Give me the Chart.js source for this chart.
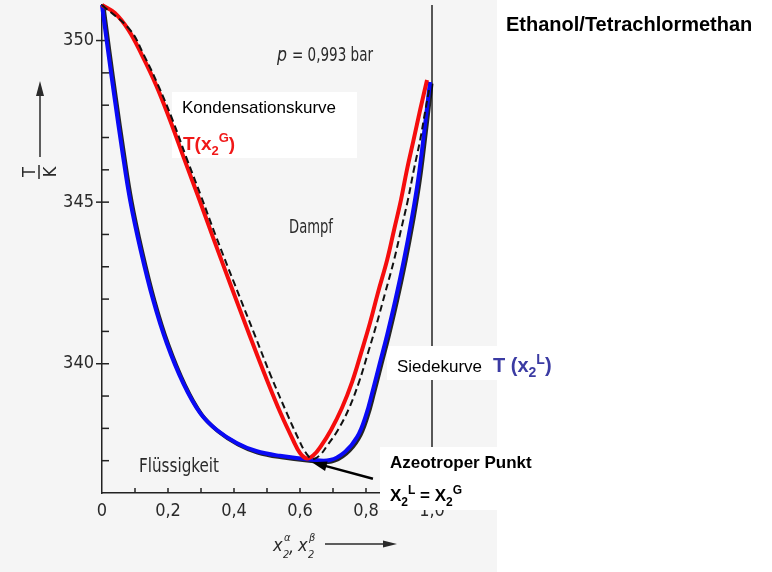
<!DOCTYPE html>
<html>
<head>
<meta charset="utf-8">
<script src="https://cdn.jsdelivr.net/npm/chart.js@4.4.1/dist/chart.umd.min.js"></script>
<style>
  html, body { margin: 0; padding: 0; background: #fff; }
  #wrap { position: relative; width: 772px; height: 572px; }
</style>
</head>
<body>
<div id="wrap"><canvas id="c"></canvas></div>
<script>
// Kondensationskurve T(x2G), rot
const dewX = [0, 0.039, 0.080, 0.121, 0.164, 0.206, 0.248, 0.291, 0.335, 0.389, 0.448, 0.495, 0.542, 0.579, 0.600, 0.621, 0.642, 0.664, 0.694, 0.727, 0.758, 0.785, 0.812, 0.836, 0.864, 0.885, 0.906, 0.924, 0.944, 0.964, 0.985];
const dewT = [351.1, 350.85, 350.33, 349.55, 348.62, 347.54, 346.37, 345.19, 343.95, 342.46, 340.86, 339.62, 338.45, 337.64, 337.24, 337.07, 337.18, 337.46, 337.95, 338.63, 339.44, 340.33, 341.26, 342.19, 343.21, 344.14, 345.07, 346.00, 346.92, 347.85, 348.78];

// Siedekurve T(x2L), blau
const bubbleX = [0, 0.018, 0.039, 0.061, 0.085, 0.117, 0.155, 0.196, 0.246, 0.297, 0.348, 0.408, 0.467, 0.539, 0.630, 0.691, 0.736, 0.773, 0.800, 0.821, 0.842, 0.864, 0.889, 0.915, 0.938, 0.958, 0.977, 0.994];
const bubbleT = [351.1, 349.71, 348.16, 346.61, 345.07, 343.52, 341.97, 340.64, 339.40, 338.48, 337.95, 337.55, 337.30, 337.15, 337.04, 337.02, 337.27, 337.73, 338.41, 339.19, 340.02, 340.89, 341.97, 343.21, 344.45, 345.69, 347.23, 348.72];

// gestrichelte Originalkurve aus der Vorlage
const scanX = [0, 0.085, 0.127, 0.170, 0.214, 0.256, 0.300, 0.345, 0.402, 0.464, 0.512, 0.561, 0.597, 0.618, 0.639, 0.661, 0.682, 0.715, 0.749, 0.779, 0.806, 0.833, 0.858, 0.885, 0.906, 0.927, 0.945, 0.964, 0.980, 0.991];
const scanT = [351.1, 350.33, 349.55, 348.62, 347.54, 346.37, 345.19, 343.95, 342.46, 340.86, 339.62, 338.45, 337.64, 337.24, 337.05, 337.18, 337.46, 337.95, 338.63, 339.44, 340.33, 341.26, 342.19, 343.21, 344.14, 345.07, 346.00, 346.92, 347.85, 348.47];

const xTickLabels = ['0', '0,2', '0,4', '0,6', '0,8', '1,0'];
const yTickLabels = [340, 345, 350];

// azeotroper Punkt (Pfeilspitze) und Pfeilanfang
const azeo = { x: 0.636, y: 336.95 };
const azeoFrom = { x: 0.821, y: 336.44 };

const pts = (xs, ys) => xs.map((x, i) => ({ x, y: ys[i] }));

const SANS = '"Liberation Sans", Arial, sans-serif';
const SCAN = '"DejaVu Sans Condensed", "DejaVu Sans", sans-serif';

function line(c, x1, y1, x2, y2) {
  c.beginPath(); c.moveTo(x1, y1); c.lineTo(x2, y2); c.stroke();
}

function arrow(c, x1, y1, x2, y2, len, half) {
  const ang = Math.atan2(y2 - y1, x2 - x1);
  line(c, x1, y1, x2 - Math.cos(ang) * len * 0.6, y2 - Math.sin(ang) * len * 0.6);
  c.beginPath();
  c.moveTo(x2, y2);
  c.lineTo(x2 - Math.cos(ang) * len + Math.sin(ang) * half, y2 - Math.sin(ang) * len - Math.cos(ang) * half);
  c.lineTo(x2 - Math.cos(ang) * len - Math.sin(ang) * half, y2 - Math.sin(ang) * len + Math.cos(ang) * half);
  c.closePath();
  c.fill();
}

function rich(c, x, y, parts) {
  for (const p of parts) {
    c.font = p.f;
    c.fillText(p.t, x, y + (p.dy || 0));
    x += c.measureText(p.t).width;
  }
  return x;
}

function fitText(c, text, x, y, font, w) {
  c.font = font;
  const m = c.measureText(text).width;
  c.save();
  c.translate(x, y);
  c.scale(w / m, 1);
  c.fillText(text, 0, 0);
  c.restore();
}

const sheet = {
  id: 'sheet',
  beforeDraw(chart) {
    const c = chart.ctx;
    c.save();
    c.fillStyle = '#fff';
    c.fillRect(0, 0, chart.width, chart.height);
    c.fillStyle = '#f5f5f5';
    c.fillRect(0, 0, 497, chart.height);
    c.restore();
  },
  beforeDatasetsDraw(chart) {
    const c = chart.ctx, xs = chart.scales.x, ys = chart.scales.y, a = chart.chartArea;
    c.save();
    c.strokeStyle = '#222';
    c.lineWidth = 1.5;
    const xr = xs.getPixelForValue(1);
    line(c, xr, a.top, xr, a.bottom);
    for (let i = 1; i <= 10; i++) {
      const px = xs.getPixelForValue(i / 10);
      line(c, px, a.bottom, px, a.bottom - 5);
    }
    for (let t = 337; t <= 351; t++) {
      const py = ys.getPixelForValue(t);
      line(c, a.left, py, a.left + 7, py);
      if (yTickLabels.includes(t)) line(c, a.left - 6, py, a.left, py);
    }
    // weiße Beschriftungsfelder
    c.fillStyle = '#fff';
    c.fillRect(172, 92, 185, 66);
    c.fillRect(387, 346, 110, 34);
    c.fillRect(380, 447, 117, 63);
    c.restore();
  },
  beforeDatasetDraw(chart, args) {
    // dunkle Originalkurve scheint unter der blauen Linie durch
    if (args.index === 2) {
      const c = chart.ctx;
      c.save();
      c.shadowColor = 'rgba(0,0,0,0.85)';
      c.shadowOffsetX = 1.5;
      c.shadowOffsetY = 1.5;
      c.shadowBlur = 0;
    }
  },
  afterDatasetDraw(chart, args) {
    if (args.index === 2) chart.ctx.restore();
  },
  afterDatasetsDraw(chart) {
    const c = chart.ctx, xs = chart.scales.x, ys = chart.scales.y;
    c.save();
    c.textBaseline = 'alphabetic';
    c.textAlign = 'left';

    // Texte aus der Vorlage (Scan)
    c.fillStyle = '#2a2a2a';
    fitText(c, 'p', 277, 61, 'italic 20px ' + SCAN, 10);
    fitText(c, '= 0,993 bar', 292, 61, '20px ' + SCAN, 81);
    fitText(c, 'Dampf', 289, 233, '20px ' + SCAN, 44);
    fitText(c, 'Flüssigkeit', 139, 472, '20px ' + SCAN, 80);

    // Achsentitel x
    const xi = 'italic 18px ' + SCAN, xsm = 'italic 11px ' + SCAN;
    c.font = xi;
    c.fillText('x', 273, 551);
    c.fillText(',', 289, 553);
    c.fillText('x', 298, 551);
    c.font = xsm;
    c.fillText('2', 283, 558);
    c.fillText('\u03b1', 284, 541);
    c.fillText('2', 308, 558);
    c.fillText('\u03b2', 309, 541);
    c.strokeStyle = '#2a2a2a';
    c.fillStyle = '#2a2a2a';
    c.lineWidth = 1.5;
    arrow(c, 325, 544, 397, 544, 14, 3.5);

    // Achsentitel y: T/K mit Pfeil
    arrow(c, 40, 157, 40, 81, 15, 4);
    c.save();
    c.translate(39, 172);
    c.rotate(-Math.PI / 2);
    c.font = '18px ' + SCAN;
    c.textAlign = 'center';
    c.fillText('T', 0, -4);
    c.fillText('K', 0, 17);
    line(c, -7, 0, 7, 0);
    c.restore();

    // Pfeil zum azeotropen Punkt
    c.strokeStyle = '#000';
    c.fillStyle = '#000';
    c.lineWidth = 2.5;
    arrow(c, xs.getPixelForValue(azeoFrom.x), ys.getPixelForValue(azeoFrom.y),
      xs.getPixelForValue(azeo.x), ys.getPixelForValue(azeo.y), 15, 5);

    // eingefügte Beschriftungen
    c.fillStyle = '#000';
    c.font = '17px ' + SANS;
    c.fillText('Kondensationskurve', 182, 113);
    c.fillText('Siedekurve', 397, 372);

    c.fillStyle = '#f01818';
    const rb = 'bold 19px ' + SANS, rs = 'bold 13px ' + SANS;
    rich(c, 183, 150, [
      { t: 'T(x', f: rb }, { t: '2', f: rs, dy: 5 }, { t: 'G', f: rs, dy: -8 }, { t: ')', f: rb }
    ]);

    c.fillStyle = '#3b3ba3';
    const bb = 'bold 20px ' + SANS, bs = 'bold 14px ' + SANS;
    rich(c, 493, 372, [
      { t: 'T (x', f: bb }, { t: '2', f: bs, dy: 5 }, { t: 'L', f: bs, dy: -8 }, { t: ')', f: bb }
    ]);

    c.fillStyle = '#000';
    c.font = 'bold 17px ' + SANS;
    c.fillText('Azeotroper Punkt', 390, 468);
    const ab = 'bold 17px ' + SANS, as = 'bold 12px ' + SANS;
    rich(c, 390, 501, [
      { t: 'X', f: ab }, { t: '2', f: as, dy: 5 }, { t: 'L', f: as, dy: -7 },
      { t: ' = X', f: ab }, { t: '2', f: as, dy: 5 }, { t: 'G', f: as, dy: -7 }
    ]);

    c.font = 'bold 20px ' + SANS;
    c.fillText('Ethanol/Tetrachlormethan', 506, 31);
    c.restore();
  }
};

const lineStyle = { showLine: true, pointRadius: 0, tension: 0.4, clip: false };

new Chart(document.getElementById('c'), {
  type: 'scatter',
  data: {
    datasets: [
      { ...lineStyle, label: 'Vorlage', data: pts(scanX, scanT), borderColor: '#111', borderWidth: 2, borderDash: [7, 4] },
      { ...lineStyle, label: 'T(x2G)', data: pts(dewX, dewT), borderColor: '#f50d0d', borderWidth: 4 },
      { ...lineStyle, label: 'T(x2L)', data: pts(bubbleX, bubbleT), borderColor: '#0a0af5', borderWidth: 4 }
    ]
  },
  options: {
    responsive: true,
    maintainAspectRatio: false,
    animation: false,
    layout: { padding: { left: 0, right: 340, top: 5, bottom: 0 } },
    plugins: { legend: { display: false }, tooltip: { enabled: false } },
    scales: {
      x: {
        type: 'linear',
        min: 0,
        max: 1,
        afterFit(scale) { scale.height = 79; scale.paddingLeft = 0; scale.paddingRight = 0; },
        grid: { display: true, drawOnChartArea: false, drawTicks: false },
        border: { display: true, color: '#222', width: 1.5 },
        ticks: {
          stepSize: 0.1,
          autoSkip: false,
          maxRotation: 0,
          padding: 8,
          color: '#2a2a2a',
          font: { family: SCAN, size: 18 },
          callback(v) {
            const i = Math.round(v * 10);
            return i % 2 === 0 ? xTickLabels[i / 2] : '';
          }
        }
      },
      y: {
        type: 'linear',
        min: 336,
        max: 351.1,
        afterFit(scale) { scale.width = 102; scale.paddingTop = 0; scale.paddingBottom = 0; },
        grid: { display: true, drawOnChartArea: false, drawTicks: false },
        border: { display: true, color: '#222', width: 1.5 },
        ticks: {
          stepSize: 1,
          autoSkip: false,
          padding: 8,
          color: '#2a2a2a',
          font: { family: SCAN, size: 18 },
          callback(v) {
            return yTickLabels.includes(v) ? String(v) : '';
          }
        }
      }
    }
  },
  plugins: [sheet]
});
</script>
</body>
</html>
